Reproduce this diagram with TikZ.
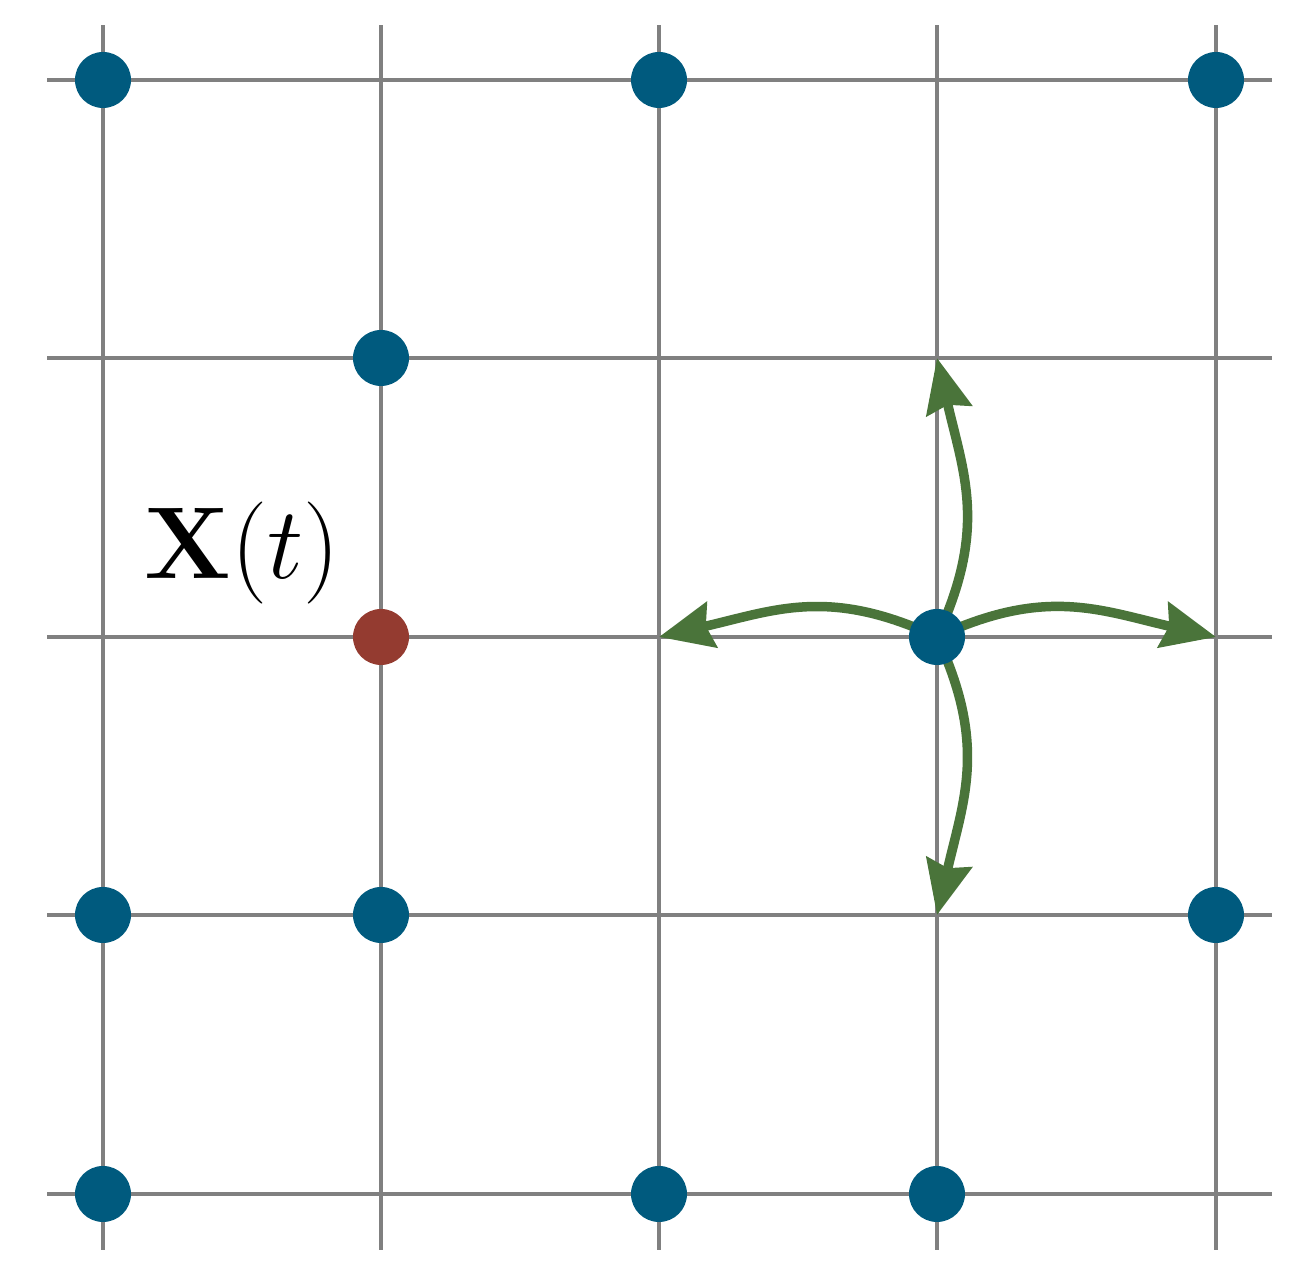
\documentclass[tikz,border=0pt]{standalone}
\usetikzlibrary{arrows.meta}
\definecolor{gridgray}{HTML}{808080}
\definecolor{dotblue}{HTML}{005A7E}
\definecolor{dotred}{HTML}{943B30}
\definecolor{arrgreen}{HTML}{4A743A}
\tikzset{
  gridline/.style={draw=gridgray, line width=1.15pt},
  bluedot/.style={circle, fill=dotblue, minimum size=0.56cm, inner sep=0pt},
  reddot/.style={circle, fill=dotred, minimum size=0.56cm, inner sep=0pt},
  jump/.style={draw=arrgreen, line width=2.7pt, looseness=1.1,
    -{Stealth[length=0.54cm, width=0.46cm, inset=0.06cm]}},
}
\begin{document}
\begin{tikzpicture}
\useasboundingbox (0,0) rectangle (13.10,12.82);
% grid coordinates
\foreach \c/\x in {0/1.03,1/3.81,2/6.59,3/9.37,4/12.16}{
  \foreach \r/\y in {0/12.02,1/9.24,2/6.45,3/3.67,4/0.88}{
    \coordinate (g-\c-\r) at (\x,\y);
  }
}
% grid lines
\foreach \x in {1.03,3.81,6.59,9.37,12.16}{
  \draw[gridline] (\x,0.32) -- (\x,12.57);
}
\foreach \y in {12.02,9.24,6.45,3.67,0.88}{
  \draw[gridline] (0.47,\y) -- (12.72,\y);
}
% jump arrows
\draw[jump] (g-3-2) to[out=25, in=167] (g-4-2);
\draw[jump] (g-3-2) to[out=155, in=13] (g-2-2);
\draw[jump] (g-3-2) to[out=65, in=-77] (g-3-1);
\draw[jump] (g-3-2) to[out=-65, in=77] (g-3-3);
% dots
\node[bluedot] (n00) at (g-0-0) {};
\node[bluedot] (n20) at (g-2-0) {};
\node[bluedot] (n40) at (g-4-0) {};
\node[bluedot] (n11) at (g-1-1) {};
\node[reddot]  (n12) at (g-1-2) {};
\node[bluedot] (n32) at (g-3-2) {};
\node[bluedot] (n03) at (g-0-3) {};
\node[bluedot] (n13) at (g-1-3) {};
\node[bluedot] (n43) at (g-4-3) {};
\node[bluedot] (n04) at (g-0-4) {};
\node[bluedot] (n24) at (g-2-4) {};
\node[bluedot] (n34) at (g-3-4) {};
% label
\node[inner sep=0pt, scale=1.168, font=\fontsize{24.88}{30}\selectfont] (lbl) at (2.42,7.29) {$\mathbf{X}(t)$};
\end{tikzpicture}
\end{document}
